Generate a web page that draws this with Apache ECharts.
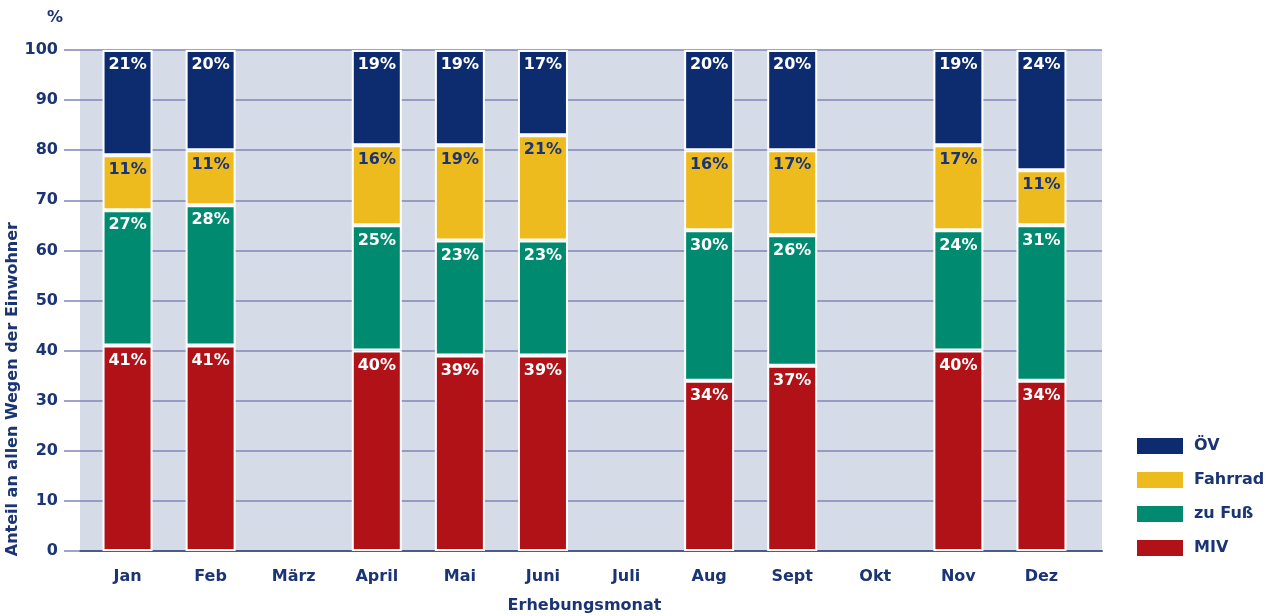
<!DOCTYPE html>
<html>
<head>
<meta charset="utf-8">
<title>Verkehrsmittelwahl</title>
<script src="https://cdn.jsdelivr.net/npm/echarts@6/dist/echarts.min.js"></script>
<style>
  html, body { margin: 0; padding: 0; background: #fff; }
  #chart { width: 1269px; height: 616px; }
</style>
</head>
<body>
<div id="chart"></div>
<script>
// Monate (März, Juli, Okt ohne Erhebung)
var months = ['Jan', 'Feb', 'März', 'April', 'Mai', 'Juni', 'Juli', 'Aug', 'Sept', 'Okt', 'Nov', 'Dez'];
var miv     = [41, 41, null, 40, 39, 39, null, 34, 37, null, 40, 34];
var zuFuss  = [27, 28, null, 25, 23, 23, null, 30, 26, null, 24, 31];
var fahrrad = [11, 11, null, 16, 19, 21, null, 16, 17, null, 17, 11];
var oev     = [21, 20, null, 19, 19, 17, null, 20, 20, null, 19, 24];
var yTicks  = [0, 10, 20, 30, 40, 50, 60, 70, 80, 90, 100];

var navy = '#1b3473';
var font = 'DejaVu Sans';
var yMin = yTicks[0], yMax = yTicks[yTicks.length - 1];

function serie(name, data, color, labelColor) {
    return {
        name: name,
        type: 'bar',
        stack: 'total',
        xAxisIndex: 1,
        yAxisIndex: 1,
        barWidth: 50,
        data: data,
        itemStyle: { color: color, borderColor: '#fff', borderWidth: 2 },
        label: {
            show: true,
            position: 'insideTop',
            distance: 7,
            formatter: '{c}%',
            color: labelColor,
            fontFamily: font,
            fontWeight: 'bold',
            fontSize: 16
        }
    };
}

var chart = echarts.init(document.getElementById('chart'));
chart.setOption({
    animation: false,
    textStyle: { fontFamily: font },
    grid: [
        // Hintergrund, Gitterlinien, y-Achse
        { left: 80, right: 167, top: 50, bottom: 65, outerBoundsMode: 'none',
          show: true, backgroundColor: '#d5dce8', borderWidth: 0 },
        // Balken und Monatsbeschriftung
        { left: 86, width: 997, top: 50, bottom: 65, outerBoundsMode: 'none' }
    ],
    legend: {
        orient: 'vertical',
        left: 1130, top: 431,
        icon: 'rect',
        itemWidth: 48, itemHeight: 18, itemGap: 14,
        data: ['ÖV', 'Fahrrad', 'zu Fuß', 'MIV'],
        textStyle: { color: navy, fontWeight: 'bold', fontSize: 16, fontFamily: font, padding: [0, 0, 0, 5] }
    },
    xAxis: [{
        gridIndex: 0,
        type: 'value',
        min: 0, max: 1,
        axisLine: { show: true, onZero: false, lineStyle: { color: '#4b5b8c', width: 2 } },
        axisTick: { show: false },
        axisLabel: { show: false },
        splitLine: { show: false }
    }, {
        gridIndex: 1,
        type: 'category',
        data: months,
        name: 'Erhebungsmonat',
        nameLocation: 'middle',
        nameGap: 47,
        nameTextStyle: { color: navy, fontWeight: 'bold', fontSize: 16 },
        axisLine: { show: false },
        axisTick: { show: false },
        axisLabel: { color: navy, fontWeight: 'bold', fontSize: 16, margin: 18 }
    }],
    yAxis: [{
        gridIndex: 0,
        type: 'value',
        min: yMin, max: yMax, interval: 10,
        name: '%',
        nameLocation: 'end',
        nameGap: 24,
        nameTextStyle: { color: navy, fontWeight: 'bold', fontSize: 16, padding: [0, 0, 0, -50] },
        axisLine: { show: false },
        axisTick: { show: true, length: 16, lineStyle: { color: '#7f86b5', width: 1.5 } },
        axisLabel: { color: navy, fontWeight: 'bold', fontSize: 16, margin: 22 },
        splitLine: { lineStyle: { color: '#7f86b5', width: 1.5 } }
    }, {
        gridIndex: 1,
        type: 'value',
        min: yMin, max: yMax,
        show: false
    }],
    graphic: [{
        type: 'text',
        left: 5, top: 222,
        rotation: Math.PI / 2,
        style: {
            text: 'Anteil an allen Wegen der Einwohner',
            fill: navy,
            font: 'bold 16px "DejaVu Sans"'
        }
    }],
    series: [
        serie('MIV', miv, '#b01218', '#fff'),
        serie('zu Fuß', zuFuss, '#008a6f', '#fff'),
        serie('Fahrrad', fahrrad, '#eebb1f', navy),
        serie('ÖV', oev, '#0d2c6f', '#fff')
    ]
});
</script>
</body>
</html>
